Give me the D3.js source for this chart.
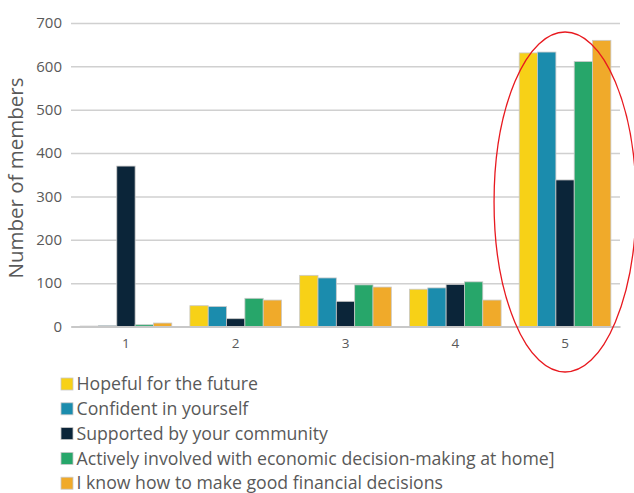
<!DOCTYPE html>
<html>
<head>
<meta charset="utf-8">
<script src="https://cdn.jsdelivr.net/npm/d3@7"></script>
<style>
  html, body { margin: 0; padding: 0; background: #fff; }
  svg { display: block; }
  text { font-family: "Open Sans", "Noto Sans", sans-serif; fill: #595959; }
</style>
</head>
<body>
<svg id="chart" width="634" height="493"></svg>
<script>
// Rating scale categories
const categories = ["1", "2", "3", "4", "5"];

// Statements, one series each
const seriesNames = [
  "Hopeful for the future",
  "Confident in yourself",
  "Supported by your community",
  "Actively involved with economic decision-making at home]",
  "I know how to make good financial decisions"
];
const seriesColors = ["#F7D117", "#1B8CAD", "#0B2539", "#27A66A", "#F0AA2A"];

// Number of members per rating, per statement
const hopeful    = [1, 48, 118, 86, 631];
const confident  = [2, 46, 112, 89, 633];
const supported  = [370, 18, 58, 97, 338];
const involved   = [4, 65, 96, 103, 611];
const financial  = [8, 61, 91, 61, 660];
const seriesValues = [hopeful, confident, supported, involved, financial];

const yTicks = [0, 100, 200, 300, 400, 500, 600, 700];

const svg = d3.select("#chart");
const margin = { left: 71, right: 14, top: 23, bottom: 166 };
const W = 634, H = 493;
const plotRight = W - margin.right;
const plotBottom = 326.5;

const x = d3.scaleBand().domain(categories).range([margin.left, plotRight]).paddingInner(0.165).paddingOuter(0.083);
const xs = d3.scaleBand().domain(d3.range(seriesNames.length)).range([0, x.bandwidth()]);
const y = d3.scaleLinear().domain([0, 700]).range([plotBottom, margin.top]);

// Horizontal gridlines with value labels
const yAxis = d3.axisLeft(y).tickValues(yTicks).tickSize(-(plotRight - margin.left)).tickPadding(9);
const gy = svg.append("g").attr("transform", `translate(${margin.left},0)`).call(yAxis);
gy.select(".domain").remove();
gy.selectAll(".tick line").attr("stroke", "#d0d0d0").attr("stroke-width", 1.5);
gy.selectAll(".tick text").style("font-size", "15px").attr("fill", "#595959");

// Bars
const groups = svg.append("g").selectAll("g").data(seriesValues).join("g")
  .attr("fill", (d, i) => seriesColors[i]);
groups.selectAll("rect")
  .data((vals, si) => vals.map((v, ci) => ({ v, si, ci })))
  .join("rect")
  .attr("x", d => x(categories[d.ci]) + xs(d.si))
  .attr("y", d => y(d.v))
  .attr("width", xs.bandwidth())
  .attr("height", d => plotBottom - y(d.v))
  .attr("stroke", "#c9c9c9")
  .attr("stroke-width", 0.8);

// Category axis
const xAxis = d3.axisBottom(x).tickSize(0).tickPadding(12);
const gx = svg.append("g").attr("transform", `translate(0,${plotBottom})`).call(xAxis);
gx.select(".domain").attr("stroke", "#c8c8c8").attr("stroke-width", 2);
gx.selectAll(".tick text").style("font-size", "13.5px").attr("fill", "#595959");

// Axis title
svg.append("text")
  .attr("transform", `translate(23,${178}) rotate(-90)`)
  .attr("text-anchor", "middle")
  .style("font-size", "20.5px")
  .text("Number of members");

// Highlight around rating 5
svg.append("ellipse")
  .attr("cx", x("5") + x.bandwidth() / 2)
  .attr("cy", 202)
  .attr("rx", 71)
  .attr("ry", 170)
  .attr("fill", "none")
  .attr("stroke", "#e8191f")
  .attr("stroke-width", 1.3);

// Legend
const legend = svg.append("g").selectAll("g").data(seriesNames).join("g")
  .attr("transform", (d, i) => `translate(61,${384 + i * 24.8})`);
legend.append("rect")
  .attr("x", 0).attr("y", -6).attr("width", 12).attr("height", 12)
  .attr("fill", (d, i) => seriesColors[i])
  .attr("stroke", "#c9c9c9").attr("stroke-width", 0.8);
legend.append("text")
  .attr("x", 15.5).attr("y", 0).attr("dy", "0.35em")
  .style("font-size", "17.7px")
  .text(d => d);
</script>
</body>
</html>
